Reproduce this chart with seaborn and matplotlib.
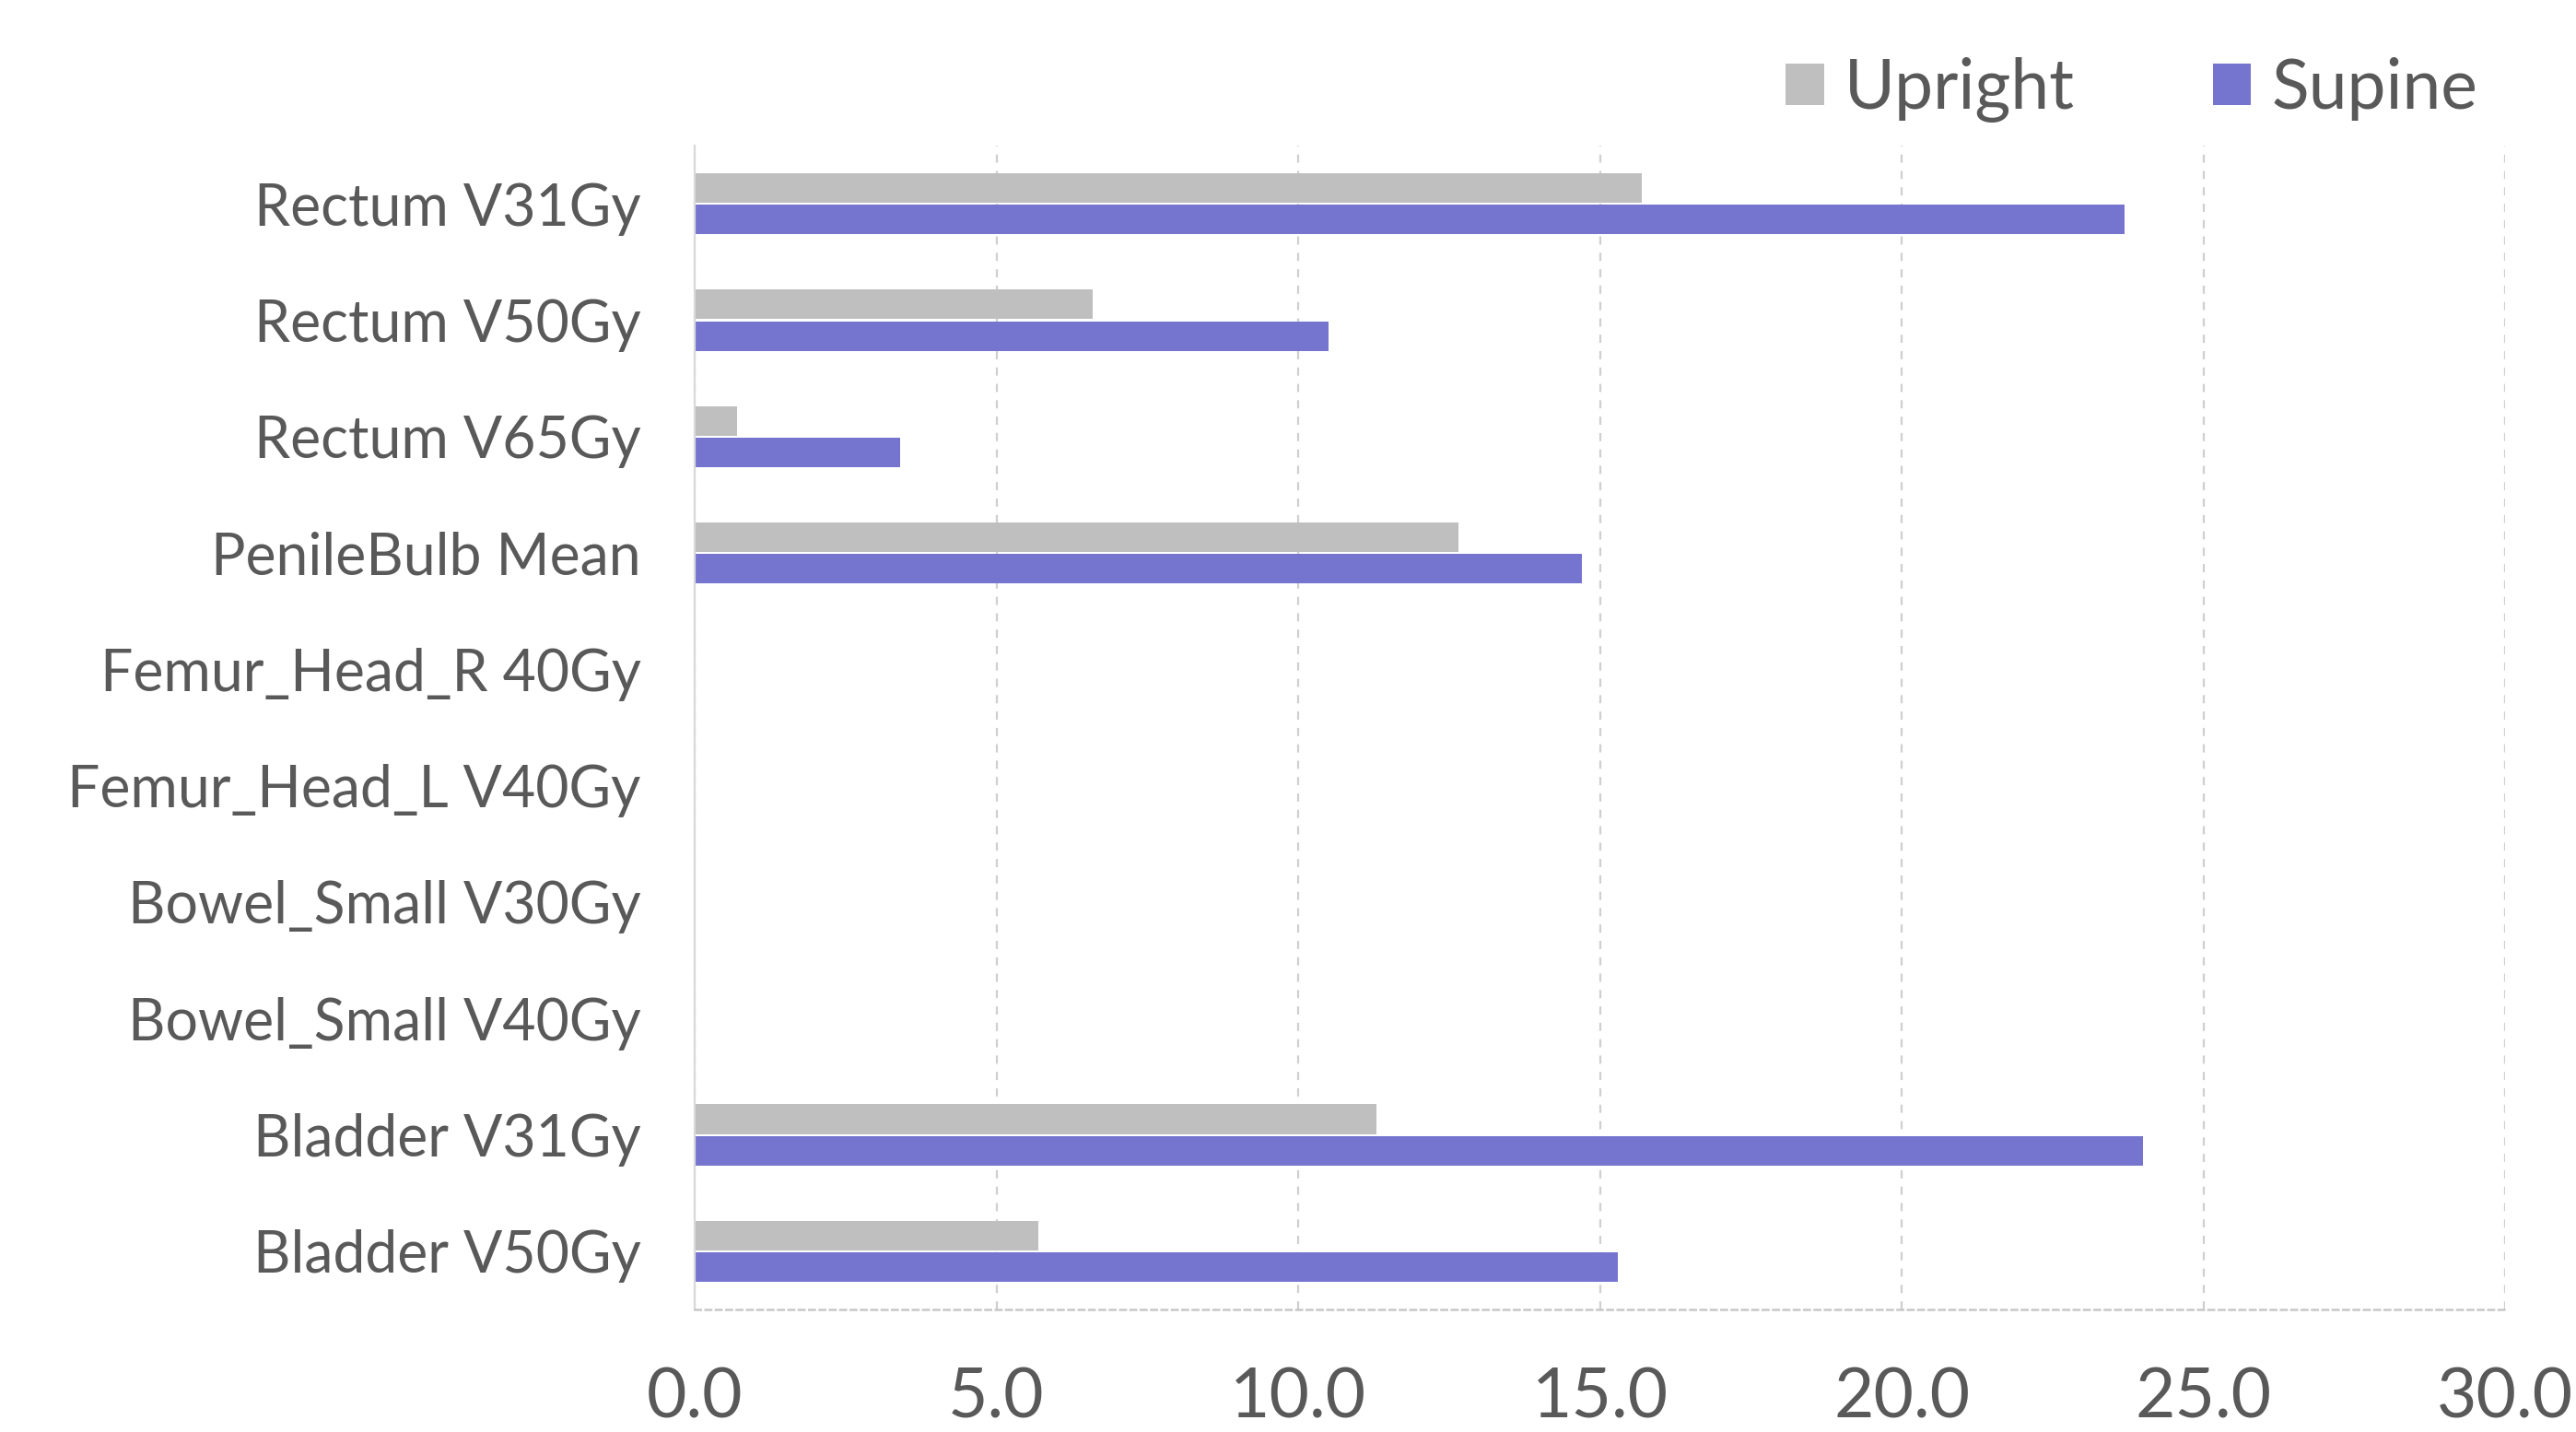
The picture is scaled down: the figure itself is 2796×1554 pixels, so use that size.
import matplotlib
matplotlib.use("Agg")
import matplotlib.pyplot as plt
import seaborn as sns
import pandas as pd

# ---- data ----
categories = [
    "Rectum V31Gy", "Rectum V50Gy", "Rectum V65Gy", "PenileBulb Mean",
    "Femur_Head_R 40Gy", "Femur_Head_L V40Gy", "Bowel_Small V30Gy",
    "Bowel_Small V40Gy", "Bladder V31Gy", "Bladder V50Gy",
]
series_names = ["Upright", "Supine"]
upright = [15.7, 6.6, 0.7, 12.65, 0, 0, 0, 0, 11.3, 5.7]
supine = [23.7, 10.5, 3.4, 14.7, 0, 0, 0, 0, 24.0, 15.3]
x_ticks = [0, 5, 10, 15, 20, 25, 30]

colors = {"Upright": "#BFBFBF", "Supine": "#7575CF"}
text_color = "#595959"

df = pd.DataFrame({
    "category": categories * 2,
    "value": upright + supine,
    "series": [series_names[0]] * len(categories) + [series_names[1]] * len(categories),
})

sns.set_theme(style="white")
plt.rcParams["font.family"] = ["Lato", "DejaVu Sans"]

fig = plt.figure(figsize=(13.98, 7.77), dpi=200)
ax = fig.add_axes([0.2697, 0.0856, 0.9725 - 0.2697, 0.8983 - 0.0856])

sns.barplot(data=df, y="category", x="value", hue="series", order=categories,
            hue_order=series_names, palette=colors, orient="h", saturation=1,
            width=0.54, gap=0.06, linewidth=0, ax=ax, legend=True)

ax.set_xlim(0, 30)
ax.set_ylim(len(categories) - 0.5, -0.5)
ax.set_xticks(x_ticks)
ax.set_xticklabels([f"{t:.1f}" for t in x_ticks])
ax.set_xlabel("")
ax.set_ylabel("")

ax.tick_params(axis="x", length=0, pad=22, labelsize=27, labelcolor=text_color)
ax.tick_params(axis="y", length=0, pad=21, labelsize=22.5, labelcolor=text_color)

ax.xaxis.grid(True, color="#CFCFCF", linestyle=(0, (4, 4)), linewidth=0.8)
ax.yaxis.grid(False)
ax.set_axisbelow(True)

for s in ["top", "right"]:
    ax.spines[s].set_visible(False)
ax.spines["left"].set_color("#D9D9D9")
ax.spines["left"].set_linewidth(0.8)
ax.spines["bottom"].set_color("#C8C8C8")
ax.spines["bottom"].set_linewidth(0.9)
ax.spines["bottom"].set_linestyle((0, (2.5, 2)))

handles, labels = ax.get_legend_handles_labels()
ax.get_legend().remove()
fig.legend(handles, labels, loc="center right", bbox_to_anchor=(0.962, 0.937),
           ncol=2, frameon=False, fontsize=27, labelcolor=text_color,
           handlelength=0.55, handleheight=0.55, handletextpad=0.3,
           columnspacing=2.0, borderpad=0, borderaxespad=0)

fig.savefig("out.png", dpi=200)
